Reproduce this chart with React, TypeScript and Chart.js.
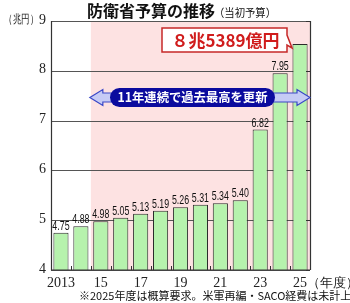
import React, { useEffect, useRef } from "react";
import { Chart, registerables } from "chart.js";

Chart.register(...registerables);

const years = ["2013", "14", "15", "16", "17", "18", "19", "20", "21", "22", "23", "24", "25"];
const budget = [4.75, 4.88, 4.98, 5.05, 5.13, 5.19, 5.26, 5.31, 5.34, 5.40, 6.82, 7.95, 8.54];
const valueLabels = ["4.75", "4.88", "4.98", "5.05", "5.13", "5.19", "5.26", "5.31", "5.34", "5.40", "6.82", "7.95", ""];
const xTickLabels = ["2013", "", "15", "", "17", "", "19", "", "21", "", "23", "", "25"];
const yTicks = [4, 5, 6, 7, 8, 9];
const titleText = "防衛省予算の推移";
const subTitleText = "（当初予算）";
const calloutText = "８兆5389億円";
const arrowText = "11年連続で過去最高を更新";
const noteText = "※2025年度は概算要求。米軍再編・SACO経費は未計上";

const SERIF = '"Liberation Serif", "DejaVu Serif", serif';
const SANS = '"Noto Sans CJK JP", "Noto Sans", sans-serif';
const NARROW = '"Liberation Sans", Arial, sans-serif';

function fitText(ctx: any, text: string, cx: number, cy: number, width: number) {
  const w = ctx.measureText(text).width;
  const s = width / w;
  ctx.save();
  ctx.translate(cx, cy);
  ctx.scale(s, 1);
  ctx.fillText(text, 0, 0);
  ctx.restore();
}

const overlay = {
  id: "overlay",
  beforeDatasetsDraw(chart: any) {
    const { ctx, chartArea: a, scales } = chart;
    const x = scales.x, y = scales.y;
    ctx.save();
    const px = (x.getPixelForValue(1) + x.getPixelForValue(2)) / 2;
    ctx.fillStyle = "#fde2e2";
    ctx.fillRect(px, a.top, a.right - px, a.bottom - a.top);
    ctx.strokeStyle = "#555";
    ctx.lineWidth = 1;
    for (const v of yTicks) {
      const yy = Math.round(y.getPixelForValue(v)) + 0.5;
      ctx.beginPath();
      ctx.moveTo(a.left, yy);
      ctx.lineTo(a.right, yy);
      ctx.stroke();
    }
    ctx.restore();
  },
  afterDatasetsDraw(chart: any) {
    const { ctx, chartArea: a, scales } = chart;
    const x = scales.x, y = scales.y;
    ctx.save();
    ctx.strokeStyle = "#333";
    ctx.lineWidth = 1.2;
    ctx.beginPath();
    ctx.moveTo(Math.round(a.left) + 0.5, a.top);
    ctx.lineTo(Math.round(a.left) + 0.5, a.bottom);
    ctx.lineTo(a.right, a.bottom);
    ctx.moveTo(Math.round(a.right) + 0.5, a.top);
    ctx.lineTo(Math.round(a.right) + 0.5, a.bottom);
    ctx.stroke();
    ctx.lineWidth = 1;
    for (let i = 0; i < years.length - 1; i++) {
      const xx = Math.round((x.getPixelForValue(i) + x.getPixelForValue(i + 1)) / 2) + 0.5;
      ctx.beginPath();
      ctx.moveTo(xx, a.bottom);
      ctx.lineTo(xx, a.bottom - 4);
      ctx.stroke();
    }
    for (const v of yTicks) {
      const yy = Math.round(y.getPixelForValue(v)) + 0.5;
      ctx.beginPath();
      ctx.moveTo(a.right - 4, yy);
      ctx.lineTo(a.right, yy);
      ctx.stroke();
    }
    // y labels
    ctx.fillStyle = "#222";
    ctx.font = `14px ${SERIF}`;
    ctx.textAlign = "right";
    ctx.textBaseline = "middle";
    for (const v of yTicks) {
      ctx.fillText(String(v), a.left - 5, y.getPixelForValue(v) - 1);
    }
    ctx.font = `11.5px ${SERIF}`;
    ctx.textAlign = "center";
    fitText(ctx, "（兆円）", 21, y.getPixelForValue(9) - 1, 34);
    // x labels
    ctx.font = `14px ${SERIF}`;
    ctx.textAlign = "center";
    ctx.textBaseline = "alphabetic";
    xTickLabels.forEach((t, i) => {
      if (t) ctx.fillText(t, x.getPixelForValue(i), a.bottom + 17);
    });
    ctx.font = `13px ${SERIF}`;
    ctx.textAlign = "left";
    ctx.fillText("（年度）", x.getPixelForValue(12) + 7, a.bottom + 17);
    // value labels (condensed)
    ctx.font = `13px ${NARROW}`;
    ctx.textAlign = "center";
    ctx.fillStyle = "#111";
    valueLabels.forEach((t, i) => {
      if (!t) return;
      ctx.save();
      ctx.translate(x.getPixelForValue(i), y.getPixelForValue(budget[i]) - 3);
      ctx.scale(0.68, 1);
      ctx.fillText(t, 0, 0);
      ctx.restore();
    });
    // title
    ctx.fillStyle = "#111";
    ctx.font = `bold 16px ${SANS}`;
    ctx.textAlign = "left";
    ctx.textBaseline = "middle";
    ctx.fillText(titleText, 87, 11);
    ctx.font = `11px ${SANS}`;
    ctx.textAlign = "center";
    fitText(ctx, subTitleText, 245, 13, 62);
    // note
    ctx.textAlign = "left";
    ctx.font = `11px ${SANS}`;
    ctx.fillStyle = "#111";
    ctx.fillText(noteText, 79, 296);

    // callout
    const bx = 162, by = 28, bw = 125, bh = 24;
    const tipX = x.getPixelForValue(12) - 8, tipY = y.getPixelForValue(budget[12]) + 4;
    ctx.fillStyle = "#fff";
    ctx.strokeStyle = "#c62828";
    ctx.lineWidth = 1.5;
    ctx.beginPath();
    ctx.moveTo(bx, by);
    ctx.lineTo(bx + bw, by);
    ctx.lineTo(bx + bw, by + 7);
    ctx.lineTo(tipX, tipY);
    ctx.lineTo(bx + bw, by + 17);
    ctx.lineTo(bx + bw, by + bh);
    ctx.lineTo(bx, by + bh);
    ctx.closePath();
    ctx.fill();
    ctx.stroke();
    ctx.fillStyle = "#d01c1c";
    ctx.font = `bold 17px ${SANS}`;
    ctx.textAlign = "center";
    ctx.textBaseline = "middle";
    fitText(ctx, calloutText, bx + bw / 2 + 1, by + bh / 2 + 1, 108);

    // double arrow
    const ay = 97.5;
    const lx = (x.getPixelForValue(1) + x.getPixelForValue(2)) / 2 - 1;
    const rx = a.right;
    ctx.fillStyle = "#c6cbf5";
    ctx.strokeStyle = "#3a48c8";
    ctx.lineWidth = 1.2;
    ctx.beginPath();
    ctx.moveTo(lx, ay);
    ctx.lineTo(lx + 13, ay - 8);
    ctx.lineTo(lx + 13, ay - 4.5);
    ctx.lineTo(rx - 13, ay - 4.5);
    ctx.lineTo(rx - 13, ay - 8);
    ctx.lineTo(rx, ay);
    ctx.lineTo(rx - 13, ay + 8);
    ctx.lineTo(rx - 13, ay + 4.5);
    ctx.lineTo(lx + 13, ay + 4.5);
    ctx.lineTo(lx + 13, ay + 8);
    ctx.closePath();
    ctx.fill();
    ctx.stroke();
    const pl = 110, pr = 275, pt = 88, pb = 107, r = (pb - pt) / 2;
    ctx.fillStyle = "#0b0b9e";
    ctx.beginPath();
    ctx.moveTo(pl + r, pt);
    ctx.lineTo(pr - r, pt);
    ctx.arc(pr - r, pt + r, r, -Math.PI / 2, Math.PI / 2);
    ctx.lineTo(pl + r, pb);
    ctx.arc(pl + r, pt + r, r, Math.PI / 2, Math.PI * 1.5);
    ctx.closePath();
    ctx.fill();
    ctx.fillStyle = "#fff";
    ctx.font = `bold 12.5px ${SANS}`;
    ctx.textAlign = "center";
    fitText(ctx, arrowText, (pl + pr) / 2, ay, 150);
    ctx.restore();
  },
};

export default function App() {
  const ref = useRef<HTMLCanvasElement | null>(null);
  useEffect(() => {
    if (!ref.current) return;
    const chart = new Chart(ref.current, {
      type: "bar",
      data: {
        labels: years,
        datasets: [
          {
            data: budget,
            backgroundColor: "#b6f2ad",
            borderColor: "#2b2b2b",
            borderWidth: 1,
            categoryPercentage: 1,
            barPercentage: 0.76,
          },
        ],
      },
      options: {
        responsive: false,
        animation: false,
        layout: { padding: { left: 51, right: 40, top: 21, bottom: 33 } },
        plugins: { legend: { display: false }, tooltip: { enabled: false } },
        scales: {
          x: { display: false },
          y: { display: false, min: 4, max: 9 },
        },
      },
      plugins: [overlay],
    });
    return () => chart.destroy();
  }, []);
  return (
    <div style={{ position: "absolute", left: 0, top: 0, width: 350, height: 303, background: "#fff" }}>
      <canvas ref={ref} width={350} height={303} />
    </div>
  );
}
